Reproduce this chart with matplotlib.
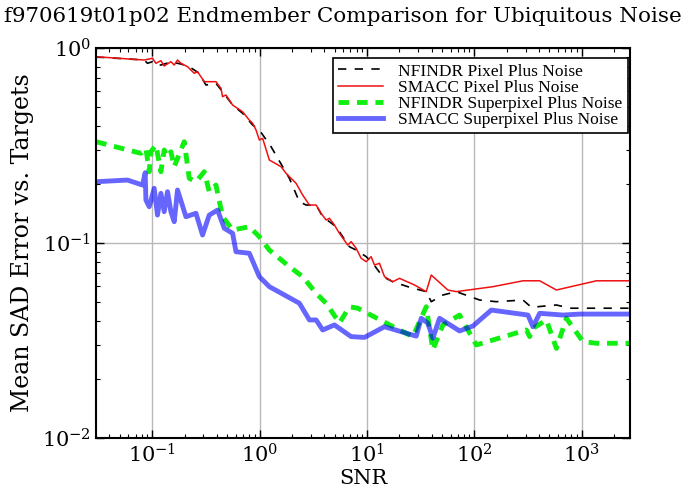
import matplotlib
matplotlib.use('Agg')
import matplotlib.pyplot as plt

plt.rcParams['font.family'] = 'DejaVu Serif'
plt.rcParams['mathtext.fontset'] = 'dejavuserif'

# NFINDR Pixel Plus Noise
nf_pix_snr = [0.030, 0.0842, 0.0904, 0.1006, 0.1083, 0.1205, 0.1504, 0.1852, 0.2213, 0.2743,
              0.3167, 0.3925, 0.4523, 0.5608, 0.695, 0.8614, 0.9947, 1.279, 1.640, 1.894,
              2.348, 2.711, 3.360, 3.871, 5.162, 5.949, 6.868, 7.930, 9.829, 11.33,
              14.04, 17.40, 24.91, 35.65, 39.68, 50.91, 67.87, 111.9, 160.2, 283.6,
              339.6, 580.9, 773.0, 2803]
nf_pix_err = [0.899, 0.868, 0.835, 0.851, 0.818, 0.818, 0.848, 0.828, 0.802, 0.742,
              0.646, 0.659, 0.597, 0.510, 0.4626, 0.4029, 0.380, 0.3118, 0.2462, 0.2147,
              0.1628, 0.1566, 0.1566, 0.1364, 0.1212, 0.1077, 0.0957, 0.0920, 0.0851, 0.0787,
              0.0672, 0.0633, 0.0593, 0.0563, 0.0500, 0.0541, 0.0563, 0.0510, 0.0500, 0.0510,
              0.0468, 0.0481, 0.0463, 0.0463]

# SMACC Pixel Plus Noise
sm_pix_snr = [0.030, 0.0842, 0.1006, 0.1083, 0.1205, 0.1294, 0.1494, 0.1604, 0.1721, 0.1852,
              0.2134, 0.2464, 0.2645, 0.3053, 0.3925, 0.4371, 0.4523, 0.4867, 0.5608, 0.695,
              0.8023, 0.8614, 0.9266, 0.9947, 1.068, 1.233, 1.585, 1.764, 2.187, 2.520,
              2.910, 3.360, 3.741, 4.165, 4.470, 4.977, 5.541, 6.622, 7.124, 7.930,
              8.829, 9.829, 10.94, 11.75, 13.08, 14.56, 17.40, 20.09, 27.73, 35.65,
              39.68, 56.66, 67.87, 148.9, 283.6, 406.0, 580.9, 1371, 2803]
sm_pix_err = [0.902, 0.868, 0.886, 0.835, 0.861, 0.809, 0.851, 0.818, 0.868, 0.835,
              0.802, 0.742, 0.756, 0.672, 0.672, 0.621, 0.563, 0.574, 0.510, 0.471,
              0.427, 0.411, 0.380, 0.3375, 0.344, 0.2665, 0.2462, 0.2277, 0.2024, 0.1763,
              0.1566, 0.1566, 0.1420, 0.1312, 0.1339, 0.1237, 0.1121, 0.0976, 0.1016, 0.0939,
              0.0835, 0.0802, 0.0851, 0.0771, 0.0787, 0.0672, 0.0633, 0.0659, 0.0609, 0.0563,
              0.0685, 0.0574, 0.0563, 0.0597, 0.0640, 0.0640, 0.0574, 0.0640, 0.0640]

# NFINDR Superpixel Plus Noise
nf_sup_snr = [0.030, 0.0784, 0.0874, 0.0938, 0.0972, 0.1083, 0.1205, 0.1294, 0.1389, 0.1494,
              0.1604, 0.1988, 0.2213, 0.2556, 0.3053, 0.3400, 0.3925, 0.4523, 0.5608, 0.8023,
              0.9947, 1.233, 1.894, 2.520, 3.360, 4.165, 5.541, 6.868, 8.206, 18.72,
              26.73, 35.65, 41.07, 50.91, 72.86, 104.3, 305.1, 327.5, 351.4, 468.7,
              580.9, 719.8, 1028, 1371, 2803]
nf_sup_err = [0.3307, 0.2884, 0.3059, 0.2320, 0.2938, 0.3181, 0.2320, 0.2998, 0.2771, 0.2938,
              0.2462, 0.3307, 0.2147, 0.2062, 0.2320, 0.1833, 0.1983, 0.1364, 0.1166, 0.1212,
              0.1077, 0.0920, 0.0756, 0.0672, 0.0552, 0.0491, 0.0389, 0.0471, 0.0463, 0.0365,
              0.0331, 0.0471, 0.0283, 0.0380, 0.0427, 0.0300, 0.0358, 0.0331, 0.0365, 0.0403,
              0.0288, 0.0411, 0.0312, 0.0306, 0.0306]

# SMACC Superpixel Plus Noise
sm_sup_snr = [0.030, 0.0588, 0.0812, 0.0861, 0.0874, 0.0938, 0.1044, 0.1120, 0.1205, 0.1294,
              0.1389, 0.1494, 0.1604, 0.1721, 0.2062, 0.2556, 0.2944, 0.3400, 0.4064, 0.4691,
              0.5608, 0.6031, 0.8023, 0.9947, 1.233, 2.348, 2.910, 3.360, 3.871, 4.977,
              7.124, 9.478, 14.56, 28.76, 32.02, 36.89, 41.07, 47.42, 72.86, 96.94,
              143.9, 315.7, 351.4, 406.0, 669.3, 957.9, 2803]
sm_sup_err = [0.2062, 0.2103, 0.1983, 0.2293, 0.1661, 0.1535, 0.1908, 0.1391, 0.1798, 0.1447,
              0.1833, 0.1447, 0.1286, 0.1870, 0.1364, 0.1420, 0.1099, 0.1391, 0.1476, 0.1190,
              0.1121, 0.0902, 0.0886, 0.0672, 0.0597, 0.0491, 0.0403, 0.0403, 0.0358, 0.0380,
              0.0331, 0.0328, 0.0372, 0.0333, 0.0411, 0.0388, 0.0325, 0.0411, 0.0354, 0.0375,
              0.0453, 0.0427, 0.0372, 0.0436, 0.0427, 0.0432, 0.0432]

fig = plt.figure(figsize=(6.86, 4.93), dpi=100)
ax = fig.add_axes([0.140, 0.1116, 0.778, 0.7910])

ax.loglog(nf_pix_snr, nf_pix_err, color='black', linestyle='--', lw=1.2, dashes=(5, 5),
          label='NFINDR Pixel Plus Noise')
ax.loglog(sm_pix_snr, sm_pix_err, color='#ee1111', lw=1.1, label='SMACC Pixel Plus Noise')
ax.loglog(nf_sup_snr, nf_sup_err, color='#11ee11', linestyle='--', lw=3.5, dashes=(2.2, 1.6),
          label='NFINDR Superpixel Plus Noise')
ax.loglog(sm_sup_snr, sm_sup_err, color='blue', alpha=0.6, lw=3.5,
          label='SMACC Superpixel Plus Noise')

ax.set_xlim(0.03, 2800)
ax.set_ylim(0.01, 1)
ax.grid(True, which='major', color='#b8b8b8', linestyle='-', lw=1)
ax.set_axisbelow(True)

ax.tick_params(which='both', direction='in', top=True, right=True, labelsize=15)
ax.tick_params(which='major', length=6, width=1)
ax.tick_params(which='minor', length=3, width=0.8)
for s in ax.spines.values():
    s.set_linewidth(1.5)

fig.suptitle('f970619t01p02 Endmember Comparison for Ubiquitous Noise', fontsize=15.4,
             x=0.5, y=0.985)
ax.set_xlabel('SNR', fontsize=15, labelpad=2)
ax.set_ylabel('Mean SAD Error vs. Targets', fontsize=17, labelpad=6)

leg = ax.legend(loc='upper right', bbox_to_anchor=(0.996, 0.974),
                prop={'family': 'Liberation Serif', 'size': 12.5},
                fancybox=False, framealpha=1, edgecolor='black', handlelength=2.6,
                handletextpad=0.85, borderpad=0.3, labelspacing=0.0, borderaxespad=0)
leg.get_frame().set_linewidth(1.2)

fig.savefig('out.png', dpi=100)
